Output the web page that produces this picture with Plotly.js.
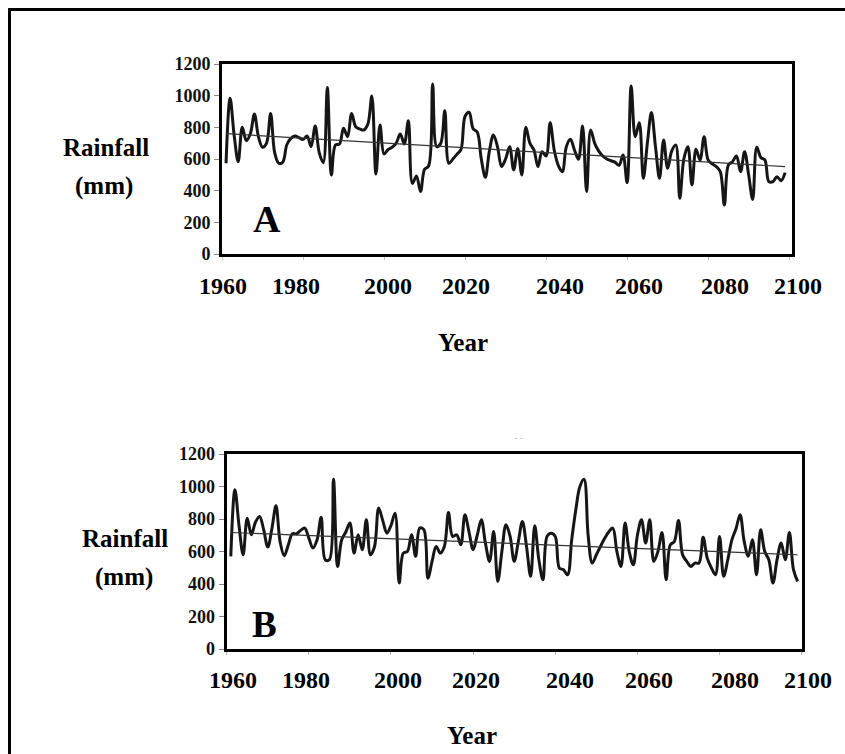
<!DOCTYPE html>
<html>
<head>
<meta charset="utf-8">
<script src="https://cdn.plot.ly/plotly-3.0.1.min.js"></script>
<style>html,body{margin:0;padding:0;background:#fff;}#chart{width:845px;height:754px;}</style>
</head>
<body>
<div id="chart"></div>
<script>
// ---- data ----
const yearsA = [];
for (let y = 1961; y <= 2099; y++) yearsA.push(y);
const yearsB = yearsA.slice();

const rainA = [
  573, 983, 750, 583, 800, 716, 760, 884, 740, 674,
  700, 888, 640, 573, 580, 690, 730, 745, 735, 724,
  745, 678, 808, 640, 577, 1051, 499, 688, 695, 794,
  741, 888, 804, 790, 783, 820, 998, 505, 815, 632,
  660, 674, 700, 758, 695, 842, 446, 493, 394, 535,
  556, 1074, 678, 700, 905, 573, 600, 630, 661, 870,
  895, 790, 770, 600, 484, 650, 752, 678, 552, 600,
  678, 531, 667, 499, 800, 700, 657, 552, 646, 619,
  829, 657, 560, 520, 678, 724, 657, 598, 808, 394,
  783, 699, 650, 619, 600, 589, 580, 560, 625, 451,
  1061, 741, 829, 478, 700, 893, 678, 478, 720, 541,
  650, 688, 352, 600, 678, 436, 661, 594, 741, 594,
  570, 552, 520, 309, 562, 583, 619, 520, 646, 500,
  345, 674, 610, 594, 457, 457, 488, 463, 514
];

const rainB = [
  570, 980, 760, 580, 805, 703, 780, 816, 734, 627,
  740, 881, 660, 574, 641, 709, 709, 730, 744, 682,
  621, 672, 811, 549, 549, 1045, 508, 672, 720, 775,
  590, 703, 611, 795, 580, 631, 867, 790, 713, 760,
  836, 406, 590, 600, 703, 570, 744, 734, 436, 539,
  631, 590, 631, 840, 693, 703, 641, 826, 720, 611,
  700, 795, 650, 539, 723, 416, 600, 764, 693, 539,
  660, 785, 631, 447, 758, 550, 426, 693, 713, 693,
  498, 488, 457, 672, 857, 1000, 1045, 700, 529, 580,
  631, 680, 720, 744, 600, 508, 775, 600, 518, 700,
  795, 652, 795, 539, 600, 717, 426, 641, 662, 791,
  580, 540, 508, 529, 529, 688, 559, 500, 457, 693,
  447, 549, 672, 740, 826, 662, 570, 672, 457, 734,
  600, 549, 406, 550, 652, 549, 717, 488, 416
];

// trend line end values (start year, end year)
const trendYears = [1961, 2099];
const trendA = [760, 552];
const trendB = [717, 580];

const yTickVals = [0, 200, 400, 600, 800, 1000, 1200];
const xTickVals = [1960, 1980, 2000, 2020, 2040, 2060, 2080, 2100];
const xTickLabels = ['1960', '1980', '2000', '2020', '2040', '2060', '2080', '2100'];
const yTitleLines = ['Rainfall', '(mm)'];
const xTitle = 'Year';
const panelLetters = ['A', 'B'];

// ---- layout helpers (pixel -> paper) ----
const W = 845, H = 754;
const px = v => v / W;
const py = v => 1 - v / H;
const serif = '"Liberation Serif", "Times New Roman", serif';

// label pixel centres (layout only)
const labelXA = [223, 296, 388, 466, 560, 639, 725, 797.5];
const labelXB = [232.5, 306, 398.3, 476.3, 569.7, 648.8, 734.8, 807.8];

const lineStyle = {color: '#161616', width: 3, shape: 'spline', smoothing: 1};
const trendStyle = {color: '#333', width: 1.2};

const traces = [
  {x: yearsA, y: rainA, xaxis: 'x', yaxis: 'y', mode: 'lines', line: lineStyle, hoverinfo: 'skip'},
  {x: trendYears, y: trendA, xaxis: 'x', yaxis: 'y', mode: 'lines', line: trendStyle, hoverinfo: 'skip'},
  {x: yearsB, y: rainB, xaxis: 'x2', yaxis: 'y2', mode: 'lines', line: lineStyle, hoverinfo: 'skip'},
  {x: trendYears, y: trendB, xaxis: 'x2', yaxis: 'y2', mode: 'lines', line: trendStyle, hoverinfo: 'skip'}
];

function xAxis(domain, range) {
  return {
    domain: domain, range: range, showgrid: false, zeroline: false,
    showline: true, mirror: true, linecolor: '#000', linewidth: 3,
    ticks: 'outside', ticklen: 3, tickwidth: 1, tickcolor: '#bbb',
    tickvals: xTickVals, showticklabels: false, fixedrange: true
  };
}
function yAxis(domain) {
  return {
    domain: domain, range: [0, 1200], showgrid: false, zeroline: false,
    showline: true, mirror: true, linecolor: '#000', linewidth: 3,
    ticks: 'outside', ticklen: 5, tickwidth: 1, tickcolor: '#888',
    tickvals: yTickVals, ticktext: yTickVals.map(String),
    tickfont: {family: serif, size: 18, color: '#111', weight: 'bold'},
    fixedrange: true
  };
}

const annotations = [];
function addText(text, x, y, size) {
  annotations.push({
    text: '<b>' + text + '</b>', xref: 'paper', yref: 'paper',
    x: px(x), y: py(y), xanchor: 'center', yanchor: 'middle',
    showarrow: false, font: {family: serif, size: size, color: '#000'}
  });
}
xTickLabels.forEach((t, i) => addText(t, labelXA[i], 286, 24));
xTickLabels.forEach((t, i) => addText(t, labelXB[i], 680, 24));
addText(xTitle, 462.5, 342, 25);
addText(xTitle, 472.3, 735, 25);
addText(yTitleLines[0], 105.5, 147, 25);
addText(yTitleLines[1], 104, 186, 25);
addText(yTitleLines[0], 125, 538, 25);
addText(yTitleLines[1], 124, 577, 25);
addText(panelLetters[0], 267, 219, 38);
addText(panelLetters[1], 264, 624, 37);
annotations.push({
  text: '- -', xref: 'paper', yref: 'paper', x: px(518), y: py(437),
  xanchor: 'center', yanchor: 'middle', showarrow: false,
  font: {family: serif, size: 10, color: '#bbb'}
});

const layout = {
  width: W, height: H,
  margin: {l: 0, r: 0, t: 0, b: 0},
  paper_bgcolor: '#fff', plot_bgcolor: '#fff',
  showlegend: false,
  xaxis: xAxis([px(222), px(792)], [1960, 2100.7]),
  yaxis: yAxis([py(254), py(64)]),
  xaxis2: xAxis([px(226.7), px(801.7)], [1960, 2100]),
  yaxis2: Object.assign(yAxis([py(649), py(454)]), {anchor: 'x2'}),
  annotations: annotations,
  shapes: [{
    type: 'rect', xref: 'paper', yref: 'paper',
    x0: px(9.5), x1: px(870), y0: py(790), y1: py(9.5),
    line: {color: '#000', width: 3}, fillcolor: 'rgba(0,0,0,0)', layer: 'above'
  }]
};
layout.xaxis2.anchor = 'y2';

Plotly.newPlot('chart', traces, layout, {displayModeBar: false, staticPlot: true});
</script>
</body>
</html>
